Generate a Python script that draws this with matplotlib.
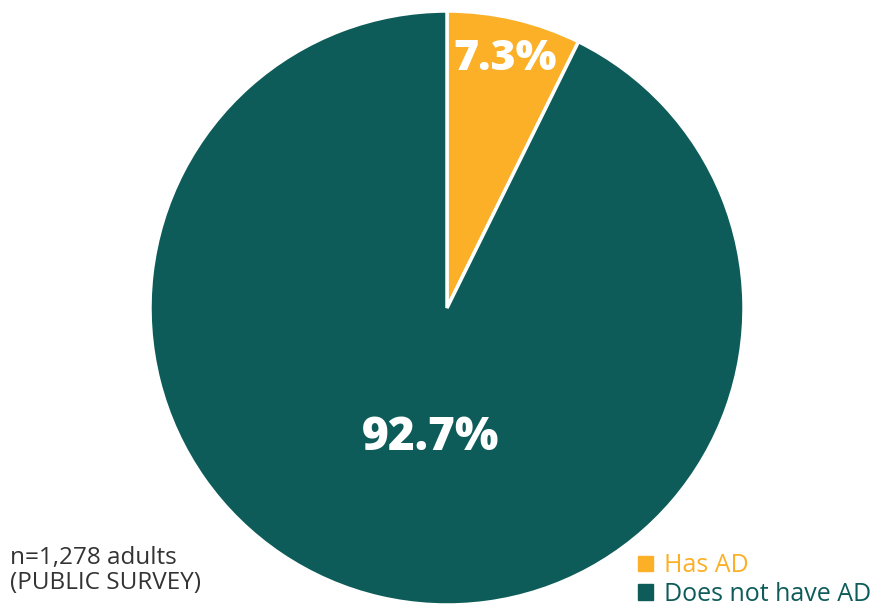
import matplotlib.pyplot as plt
import matplotlib.patches as mpatches
import numpy as np

# Data
labels = ['Has AD', 'Does not have AD']
shares = [7.3, 92.7]
colors = ['#FBB028', '#0E5C59']
note = 'n=1,278 adults\n(PUBLIC SURVEY)'

plt.rcParams['font.family'] = ['Open Sans', 'DejaVu Sans']

fig = plt.figure(figsize=(8.78, 6.08), dpi=100)
ax = fig.add_axes([0, 0, 1, 1])

center = (447, 300)
radius = 297
wedges, texts, autotexts = ax.pie(
    shares, colors=colors, startangle=90, counterclock=False,
    center=center, radius=radius, autopct='%.1f%%',
    pctdistance=0.86, frame=True,
    wedgeprops=dict(edgecolor='white', linewidth=2.5),
    textprops=dict(color='white', fontweight='heavy'))
ax.set_xlim(0, 878)
ax.set_ylim(0, 608)
ax.set_aspect('equal')
ax.axis('off')

autotexts[0].set_fontsize(31)
autotexts[1].set_fontsize(33)
# pull the big label toward the centre
w = wedges[1]
mid = np.deg2rad((w.theta1 + w.theta2) / 2 + 6)
autotexts[1].set_position((center[0] + 0.44 * radius * np.cos(mid),
                           center[1] + 0.44 * radius * np.sin(mid)))

fig.text(10 / 878, 1 - 546 / 608, note, ha='left', va='top',
         fontsize=17.5, color='#333333', linespacing=1.05)

handles = [mpatches.Patch(color=c, label=l) for c, l in zip(colors, labels)]
fig.legend(handles=handles, loc='lower left', bbox_to_anchor=(638 / 878, 1 / 608),
           frameon=False, fontsize=18, labelcolor=colors,
           handlelength=0.6, handleheight=0.6, handletextpad=0.45,
           labelspacing=0.15, borderpad=0, borderaxespad=0)

fig.savefig('out.png', dpi=100)
